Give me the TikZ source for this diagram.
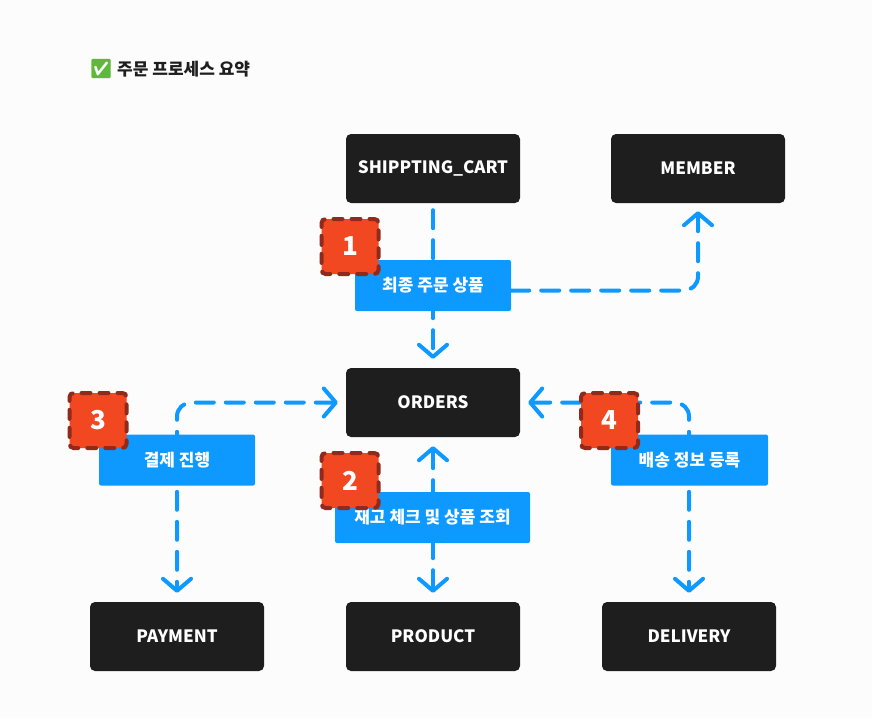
\documentclass[tikz,border=0pt]{standalone}
\usepackage{fontspec}
\setmainfont{Noto Sans CJK KR}
\newfontfamily\emojifont{Noto Emoji}
\usetikzlibrary{arrows.meta}
\pgfdeclarelayer{bg}
\pgfsetlayers{bg,main}
\definecolor{boxblack}{HTML}{1E1E1E}
\definecolor{figblue}{HTML}{0D99FF}
\definecolor{figred}{HTML}{F24822}
\definecolor{figredd}{HTML}{8F2A1C}
\definecolor{bgcol}{HTML}{FCFCFD}
\definecolor{chkgreen}{HTML}{5FB83A}
\begin{document}
\begin{tikzpicture}[x=1pt,y=-1pt,
  entity/.style={fill=boxblack, rounded corners=5pt, minimum width=174pt, minimum height=69pt, text=white, font=\bfseries\fontsize{17}{20}\selectfont, inner sep=0pt},
  steplabel/.style={fill=figblue, rounded corners=2pt, minimum height=51pt, text=white, font=\bfseries\fontsize{17}{20}\selectfont, inner sep=0pt},
  badge/.style={fill=figred, draw=figredd, line width=4pt, line cap=round, dash pattern=on 9pt off 9pt, dash phase=4pt, rounded corners=4pt, minimum width=57pt, minimum height=55pt, text=white, font=\bfseries\fontsize{26}{28}\selectfont, inner sep=0pt},
  conn/.style={draw=figblue, line width=4pt, line cap=round, dash pattern=on 18pt off 12pt, rounded corners=14pt},
  arr/.style={-{Straight Barb[length=12pt, width=28pt, round]}},
  darr/.style={{Straight Barb[length=12pt, width=28pt, round]}-{Straight Barb[length=12pt, width=28pt, round]}}
]
\useasboundingbox (0,0) rectangle (872,718);

\node[anchor=west, font=\bfseries\fontsize{17}{20}\selectfont, text=boxblack, inner sep=0pt] (title) at (89,69) {{\emojifont\fontsize{19}{20}\selectfont\textcolor{chkgreen}{✅}} 주문 프로세스 요약};

\node[entity] (cart) at (433,168.5) {SHIPPTING\_CART};
\node[entity] (member) at (698,168.5) {MEMBER};
\node[entity] (orders) at (433,402.5) {ORDERS};
\node[entity] (payment) at (177,636.5) {PAYMENT};
\node[entity] (product) at (433,636.5) {PRODUCT};
\node[entity] (delivery) at (689,636.5) {DELIVERY};

\node[steplabel, minimum width=156pt] (lbl1) at (433,285.5) {최종 주문 상품};
\node[steplabel, minimum width=156pt] (lbl3) at (177,460) {결제 진행};
\node[steplabel, minimum width=195pt] (lbl2) at (432.5,517.5) {재고 체크 및 상품 조회};
\node[steplabel, minimum width=157pt] (lbl4) at (689.5,460) {배송 정보 등록};

\begin{pgfonlayer}{bg}
\fill[bgcol] (0,0) rectangle (872,718);
\draw[conn, arr, shorten <=7pt, shorten >=9pt] (cart) -- (orders);
\draw[conn, arr, shorten >=8pt] ([yshift=-5pt]lbl1.east) -| (member.south);
\draw[conn, darr, shorten <=9pt, shorten >=9pt] (orders) -- (product);
\draw[conn, darr, shorten <=8pt, shorten >=9pt] (orders.west) -| (payment.north);
\draw[conn, darr, shorten <=8pt, shorten >=9pt] (orders.east) -| (delivery.north);
\end{pgfonlayer}

\node[badge] (b1) at (350,246.5) {1};
\node[badge] (b2) at (350,480.5) {2};
\node[badge] (b3) at (98,420.5) {3};
\node[badge] (b4) at (609.5,420.5) {4};
\end{tikzpicture}
\end{document}
